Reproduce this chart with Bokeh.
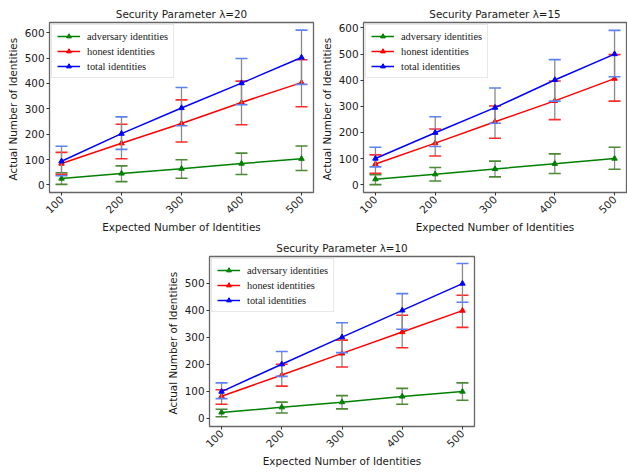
import math
from bokeh.plotting import figure
from bokeh.layouts import column, row, Spacer
from bokeh.models import FixedTicker, Range1d, Legend, LegendItem
from bokeh.embed import file_html
from bokeh.resources import INLINE

expected = [100, 200, 300, 400, 500]
series_names = ["adversary identities", "honest identities", "total identities"]

# Security parameter lambda = 20
adv20 = [25, 45, 64, 84, 103]
adv20_hi = [48, 75, 99, 125, 153]
adv20_lo = [2, 13, 26, 41, 57]
hon20 = [84, 164, 242, 325, 403]
hon20_hi = [128, 239, 335, 409, 493]
hon20_lo = [42, 103, 169, 237, 308]
tot20 = [93, 202, 303, 401, 502]
tot20_hi = [152, 268, 384, 498, 610]
tot20_lo = [36, 140, 233, 316, 396]

# Security parameter lambda = 15
adv15 = [21, 40, 60, 80, 100]
adv15_hi = [38, 66, 90, 118, 143]
adv15_lo = [0, 14, 30, 43, 59]
hon15 = [79, 159, 241, 321, 406]
hon15_hi = [114, 213, 301, 397, 498]
hon15_lo = [44, 110, 178, 249, 320]
tot15 = [100, 199, 295, 401, 500]
tot15_hi = [143, 260, 370, 479, 591]
tot15_lo = [68, 146, 235, 320, 413]

# Security parameter lambda = 10
adv10 = [22, 41, 60, 81, 99]
adv10_hi = [34, 60, 84, 111, 131]
adv10_lo = [6, 20, 35, 52, 67]
hon10 = [82, 160, 240, 319, 398]
hon10_hi = [106, 200, 289, 381, 455]
hon10_lo = [52, 119, 190, 261, 336]
tot10 = [99, 200, 300, 399, 498]
tot10_hi = [131, 247, 353, 461, 572]
tot10_lo = [73, 155, 243, 329, 429]

y_ticks_600 = [0, 100, 200, 300, 400, 500, 600]
y_ticks_500 = [0, 100, 200, 300, 400, 500]

line_colors = ["#008000", "#ff0000", "#0000ff"]
cap_colors = ["#4a8a32", "#ff2a2a", "#5b82f0"]
FONT = "DejaVu Sans"
FS = "10.4px"


def make_panel(title, data, yticks, y0, y1, width, height, mb_left, mb_right, mb_top, mb_bottom):
    p = figure(width=width, height=height, output_backend="svg", toolbar_location=None,
               x_range=Range1d(80, 520), y_range=Range1d(y0, y1),
               min_border_left=mb_left, min_border_right=mb_right,
               min_border_top=mb_top, min_border_bottom=mb_bottom)
    p.title.text = title
    p.title.align = "center"
    p.title.text_font = FONT
    p.title.text_font_size = FS
    p.title.text_font_style = "normal"
    p.title.text_color = "#1a1a1a"
    p.title.standoff = 6
    p.grid.visible = False
    p.outline_line_color = "#666666"
    p.outline_line_width = 1.3
    p.background_fill_color = "white"
    p.border_fill_color = "white"
    for ax in (p.xaxis[0], p.yaxis[0]):
        ax.axis_line_color = None
        ax.major_tick_line_color = "#333333"
        ax.major_tick_out = 3
        ax.major_tick_in = 0
        ax.minor_tick_line_color = None
        ax.major_label_text_font = FONT
        ax.major_label_text_font_size = FS
        ax.major_label_text_color = "#1a1a1a"
        ax.axis_label_text_font = FONT
        ax.axis_label_text_font_size = FS
        ax.axis_label_text_font_style = "normal"
        ax.axis_label_text_color = "#1a1a1a"
    p.yaxis.major_label_standoff = 2
    p.yaxis.axis_label_standoff = 3
    p.xaxis.major_label_standoff = 2
    p.xaxis.axis_label_standoff = 1
    p.xaxis.ticker = FixedTicker(ticks=expected)
    p.yaxis.ticker = FixedTicker(ticks=yticks)
    p.xaxis.major_label_orientation = math.pi / 4
    p.xaxis.axis_label = "Expected Number of Identities"
    p.yaxis.axis_label = "Actual Number  of Identities"

    items = []
    for (mean, hi, lo), name, c, cc in zip(data, series_names, line_colors, cap_colors):
        p.segment(x0=expected, y0=lo, x1=expected, y1=hi, line_color="#8a8a8a", line_width=1.3)
        rl = p.line(expected, mean, line_color=c, line_width=1.5)
        rm = p.scatter(expected, mean, marker="triangle", size=5.5, fill_color=c, line_color=c)
        p.scatter(expected, hi, marker="dash", size=12, line_color=cc, line_width=1.6)
        p.scatter(expected, lo, marker="dash", size=12, line_color=cc, line_width=1.6)
        items.append(LegendItem(label=name, renderers=[rl, rm]))
    leg = Legend(items=items, location="top_left",
                 label_text_font="Liberation Serif", label_text_font_size=FS,
                 label_text_color="#1a1a1a",
                 glyph_width=23, glyph_height=12, label_height=12, label_standoff=7,
                 spacing=3, padding=5, margin=2,
                 border_line_color="#d0d0d0", border_line_width=1,
                 background_fill_alpha=0.85)
    p.add_layout(leg)
    return p


p1 = make_panel("Security Parameter \u03bb=20",
                [(adv20, adv20_hi, adv20_lo), (hon20, hon20_hi, hon20_lo), (tot20, tot20_hi, tot20_lo)],
                y_ticks_600, -30, 640, 317, 236, 49, 4, 22, 41)
p2 = make_panel("Security Parameter \u03bb=15",
                [(adv15, adv15_hi, adv15_lo), (hon15, hon15_hi, hon15_lo), (tot15, tot15_hi, tot15_lo)],
                y_ticks_600, -30, 621, 310, 236, 45, 1, 20, 43)
p3 = make_panel("Security Parameter \u03bb=10",
                [(adv10, adv10_hi, adv10_lo), (hon10, hon10_hi, hon10_lo), (tot10, tot10_hi, tot10_lo)],
                y_ticks_500, -30, 598, 315, 234, 45, 4, 19, 41)

layout = column(row(p1, p2), row(Spacer(width=163, height=10), p3))

with open("out.html", "w") as f:
    f.write(file_html(layout, INLINE))
